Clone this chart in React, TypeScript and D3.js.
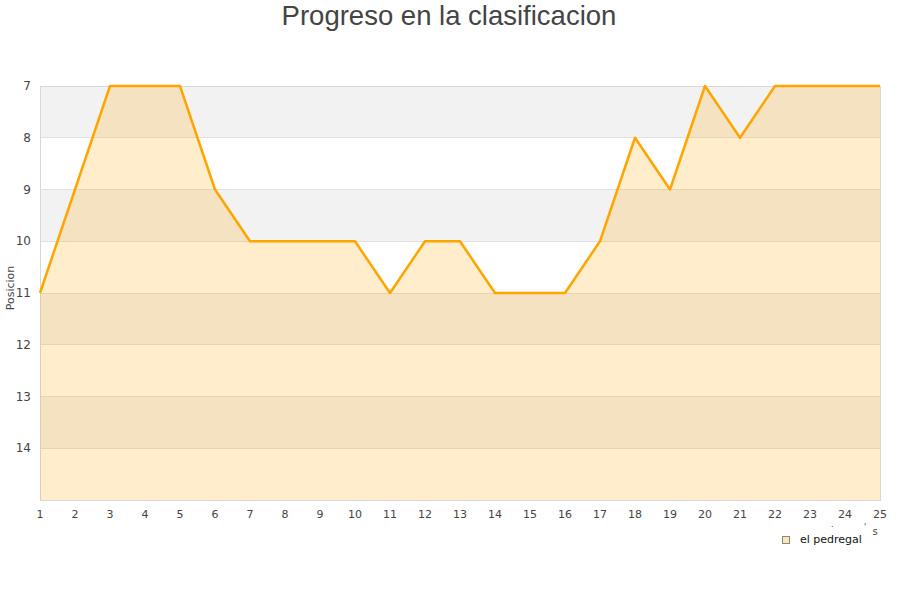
import React, { useEffect, useRef } from 'react';
import * as d3 from 'd3';

const jornadas = [1, 2, 3, 4, 5, 6, 7, 8, 9, 10, 11, 12, 13, 14, 15, 16, 17, 18, 19, 20, 21, 22, 23, 24, 25];
const posiciones = [11, 9, 7, 7, 7, 9, 10, 10, 10, 10, 11, 10, 10, 11, 11, 11, 10, 8, 9, 7, 8, 7, 7, 7, 7];
const yTicks = [7, 8, 9, 10, 11, 12, 13, 14];
const serieNombre = 'el pedregal';

export default function App() {
  const svgRef = useRef<SVGSVGElement>(null);

  useEffect(() => {
    if (!svgRef.current) return;
    const svg = d3.select(svgRef.current);
    svg.selectAll('*').remove();

    const left = 40, right = 880, top = 86, bottom = 500;
    const font = 'DejaVu Sans, sans-serif';

    const x = d3.scaleLinear().domain([1, 25]).range([left, right]);
    const y = d3.scaleLinear().domain([7, 15]).range([top, bottom]);

    // title
    svg.append('text')
      .attr('x', 449).attr('y', 25)
      .attr('text-anchor', 'middle')
      .attr('font-family', 'Liberation Sans, Arial, sans-serif')
      .attr('font-size', 27.5)
      .attr('fill', '#444')
      .text('Progreso en la clasificacion');

    // alternating bands
    const bands = d3.range(7, 15);
    svg.append('g').selectAll('rect')
      .data(bands)
      .enter().append('rect')
      .attr('x', left)
      .attr('y', d => y(d))
      .attr('width', right - left)
      .attr('height', d => y(d + 1) - y(d))
      .attr('fill', d => (d % 2 === 1 ? '#f2f2f2' : '#ffffff'));

    // grid lines
    svg.append('g').selectAll('line')
      .data(d3.range(7, 16))
      .enter().append('line')
      .attr('x1', left).attr('x2', right)
      .attr('y1', d => y(d)).attr('y2', d => y(d))
      .attr('stroke', '#e0e0e0')
      .attr('stroke-width', 1)
      .attr('shape-rendering', 'crispEdges');

    // border
    svg.append('rect')
      .attr('x', left + 0.5).attr('y', top + 0.5)
      .attr('width', right - left).attr('height', bottom - top)
      .attr('fill', 'none')
      .attr('stroke', '#d8d8d8')
      .attr('shape-rendering', 'crispEdges');

    const data = jornadas.map((j, i) => ({ j, p: posiciones[i] }));

    const area = d3.area<{ j: number; p: number }>()
      .x(d => x(d.j))
      .y0(bottom)
      .y1(d => y(d.p));

    svg.append('path')
      .datum(data)
      .attr('d', area)
      .attr('fill', 'rgba(255,165,0,0.2)');

    const line = d3.line<{ j: number; p: number }>()
      .x(d => x(d.j))
      .y(d => y(d.p));

    svg.append('path')
      .datum(data)
      .attr('d', line)
      .attr('fill', 'none')
      .attr('stroke', '#ffa500')
      .attr('stroke-width', 2.5)
      .attr('stroke-linejoin', 'round');

    // y ticks
    svg.append('g').selectAll('text')
      .data(yTicks)
      .enter().append('text')
      .attr('x', 31)
      .attr('y', d => y(d) + 4)
      .attr('text-anchor', 'end')
      .attr('font-family', font)
      .attr('font-size', 12)
      .attr('fill', '#444')
      .text(d => d);

    // x ticks
    svg.append('g').selectAll('text')
      .data(jornadas)
      .enter().append('text')
      .attr('x', d => x(d))
      .attr('y', 518)
      .attr('text-anchor', 'middle')
      .attr('font-family', font)
      .attr('font-size', 11)
      .attr('fill', '#444')
      .text(d => d);

    // y axis title
    svg.append('text')
      .attr('transform', `translate(14,${(top + bottom) / 2 - 5}) rotate(-90)`)
      .attr('text-anchor', 'middle')
      .attr('font-family', font)
      .attr('font-size', 11)
      .attr('fill', '#444')
      .text('Posicion');

    // x axis title fragments
    svg.append('text')
      .attr('x', 875).attr('y', 535)
      .attr('text-anchor', 'middle')
      .attr('font-family', font)
      .attr('font-size', 10)
      .attr('fill', '#444')
      .text('s');
    svg.append('text')
      .attr('x', 831).attr('y', 527)
      .attr('font-family', font)
      .attr('font-size', 8)
      .attr('fill', '#444')
      .text('.');
    svg.append('text')
      .attr('x', 864).attr('y', 530)
      .attr('font-family', font)
      .attr('font-size', 8)
      .attr('fill', '#444')
      .text("'");

    // legend
    svg.append('rect')
      .attr('x', 782.5).attr('y', 536.5)
      .attr('width', 7).attr('height', 7)
      .attr('fill', '#ffe6b8')
      .attr('stroke', '#888')
      .attr('stroke-width', 1);
    svg.append('text')
      .attr('x', 800).attr('y', 543)
      .attr('font-family', font)
      .attr('font-size', 11)
      .attr('fill', '#111')
      .text(serieNombre);
  }, []);

  return <svg ref={svgRef} width={900} height={600} style={{ position: 'absolute', left: 0, top: 0 }} />;
}
